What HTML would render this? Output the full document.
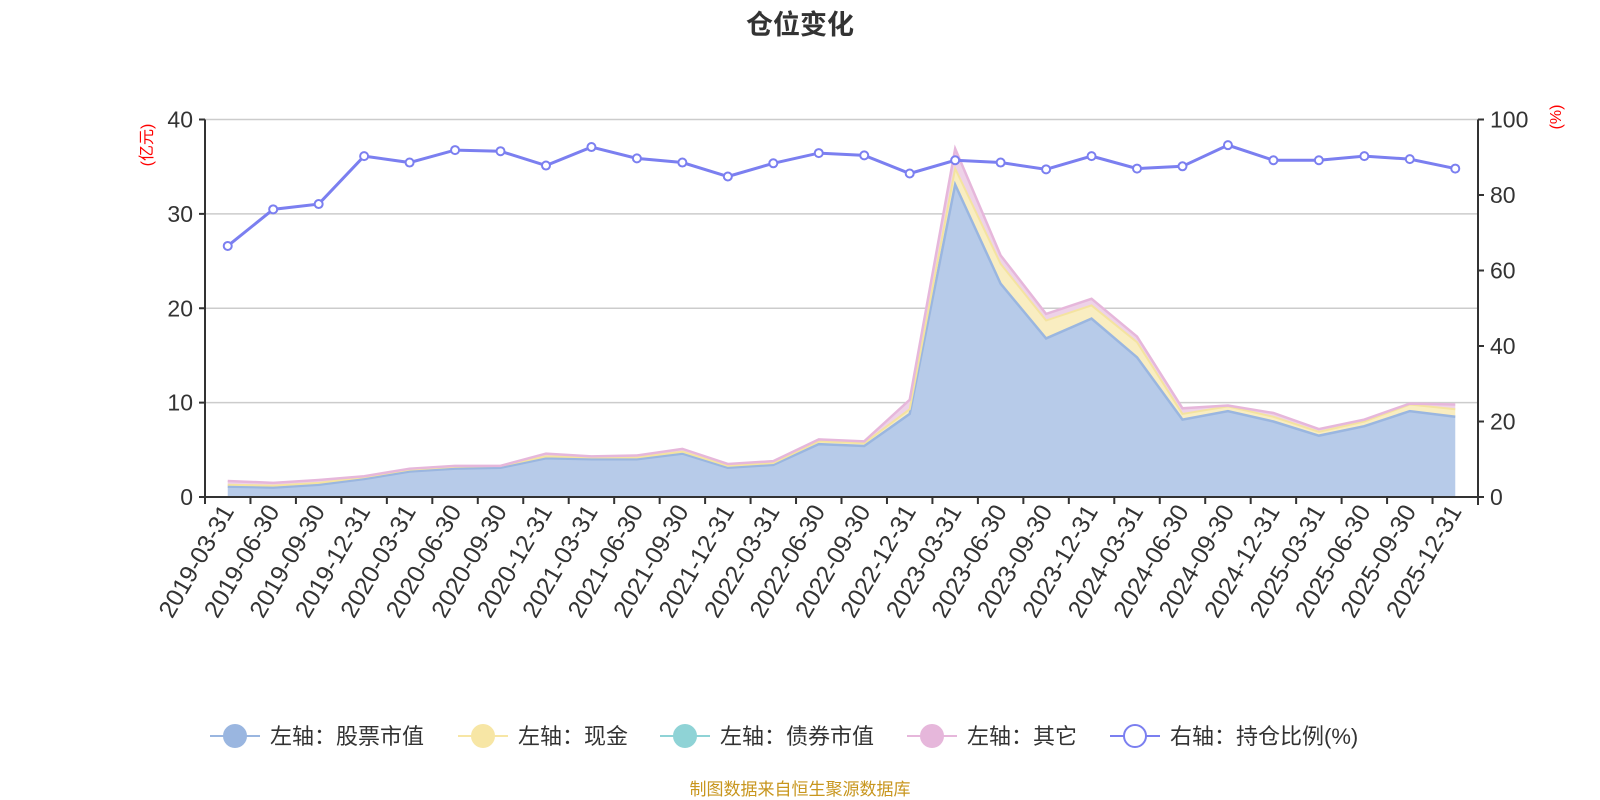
<!DOCTYPE html><html><head><meta charset="utf-8"><style>body{margin:0;background:#fff}svg{display:block}text{font-family:"Liberation Sans","Noto Sans CJK SC",sans-serif}</style></head><body>
<svg id="s" width="1600" height="800" xmlns="http://www.w3.org/2000/svg"></svg>
<script>
const L=205,R=1478,T=119.5,B=497,W=R-L,N=28,bw=W/N;
const X=i=>L+bw*(i+0.5),Y=v=>B-(B-T)*v/40,YP=v=>B-(B-T)*v/100;
const pct=[66.5,76.2,77.6,90.3,88.6,91.9,91.6,87.8,92.7,89.7,88.6,84.9,88.4,91.1,90.5,85.7,89.2,88.6,86.8,90.3,87.0,87.6,93.2,89.2,89.2,90.3,89.5,87.0];
const st=[1.1,1.0,1.3,1.9,2.7,3.0,3.1,4.1,4.0,4.0,4.6,3.1,3.4,5.6,5.4,8.8,33.1,22.6,16.8,18.9,14.8,8.2,9.1,8.0,6.5,7.5,9.1,8.5];
const cash=[.2,.2,.2,.2,.2,.2,.2,.2,.2,.2,.2,.2,.2,.3,.3,.5,1.7,2.1,1.9,1.4,1.6,.6,.5,.5,.4,.5,.7,.8];
const tot=[1.7,1.5,1.8,2.2,3.0,3.3,3.3,4.6,4.3,4.4,5.1,3.5,3.8,6.1,5.9,10.3,36.9,25.6,19.4,21.0,17.0,9.4,9.7,8.9,7.2,8.2,9.9,9.8];
const labels=[];for(let y=2019;y<=2025;y++)for(const q of["03-31","06-30","09-30","12-31"])labels.push(y+"-"+q);
let h='<text x="800" y="34" text-anchor="middle" font-size="27" font-weight="bold" fill="#333">仓位变化</text>';
for(let k=0;k<=4;k++){const y=Y(k*10);h+=`<line x1="${L}" x2="${R}" y1="${y}" y2="${y}" stroke="#ccc" stroke-width="1.5"/>`;h+=`<line x1="${L-6}" x2="${L}" y1="${y}" y2="${y}" stroke="#333" stroke-width="2"/><text x="${L-12}" y="${y+8}" text-anchor="end" font-size="23" fill="#333">${k*10}</text>`;}
for(let k=0;k<=5;k++){const y=YP(k*20);h+=`<line x1="${R}" x2="${R+6}" y1="${y}" y2="${y}" stroke="#333" stroke-width="2"/><text x="${R+12}" y="${y+8}" font-size="23" fill="#333">${k*20}</text>`;}
const c1=st.map((v,i)=>v+cash[i]);
function area(top,bot,fill){let d='M'+top.map((v,i)=>X(i)+','+Y(v)).join('L');for(let i=N-1;i>=0;i--)d+='L'+X(i)+','+Y(bot?bot[i]:0);return `<path d="${d}Z" fill="${fill}"/>`;}
function line(a,c,w){return `<polyline points="${a.map((v,i)=>X(i)+','+Y(v)).join(' ')}" fill="none" stroke="${c}" stroke-width="${w}"/>`;}
h+=area(tot,c1,'#eed2e8')+area(c1,st,'#f9edc1')+area(st,null,'#b7cbe9');
h+=line(st,'#9ab6e0',2.5)+line(c1,'#f4e3a0',2)+line(tot,'#e6b7db',2.5);
h+=`<line x1="${L}" x2="${L}" y1="${T}" y2="${B}" stroke="#333" stroke-width="2"/><line x1="${R}" x2="${R}" y1="${T}" y2="${B+8}" stroke="#333" stroke-width="2"/><line x1="${L}" x2="${R}" y1="${B}" y2="${B}" stroke="#333" stroke-width="2"/>`;
for(let i=0;i<=N;i++){const x=L+bw*i;h+=`<line x1="${x}" x2="${x}" y1="${B}" y2="${B+7}" stroke="#333" stroke-width="2"/>`;}
labels.forEach((t,i)=>{const x=X(i)+7,y=B+14;h+=`<text transform="translate(${x},${y}) rotate(-60)" text-anchor="end" font-size="24.5" fill="#333">${t}</text>`;});
h+=`<polyline points="${pct.map((v,i)=>X(i)+','+YP(v)).join(' ')}" fill="none" stroke="#7b7ff0" stroke-width="3"/>`;
pct.forEach((v,i)=>h+=`<circle cx="${X(i)}" cy="${YP(v)}" r="4" fill="#fff" stroke="#7b7ff0" stroke-width="2"/>`);
h+=`<text transform="translate(152,145) rotate(-90)" text-anchor="middle" font-size="16" fill="#f00">(亿元)</text><text transform="translate(1561,117) rotate(-90)" text-anchor="middle" font-size="16" fill="#f00">(%)</text>`;
const lg=[[210,'#9ab6e0','左轴：股票市值',1],[458,'#f7e6a5','左轴：现金',1],[660,'#8fd3d6','左轴：债券市值',1],[907,'#e6b7db','左轴：其它',1],[1110,'#7b7ff0','右轴：持仓比例(%)',0]];
lg.forEach(([x,c,t,f])=>{h+=`<line x1="${x}" x2="${x+50}" y1="736" y2="736" stroke="${c}" stroke-width="2"/><circle cx="${x+25}" cy="736" r="11" fill="${f?c:'#fff'}" stroke="${c}" stroke-width="2"/><text x="${x+60}" y="744" font-size="22" fill="#333">${t}</text>`;});
h+=`<text x="800" y="795" text-anchor="middle" font-size="17" fill="#c8961e">制图数据来自恒生聚源数据库</text>`;
document.getElementById('s').innerHTML=h;
</script></body></html>
